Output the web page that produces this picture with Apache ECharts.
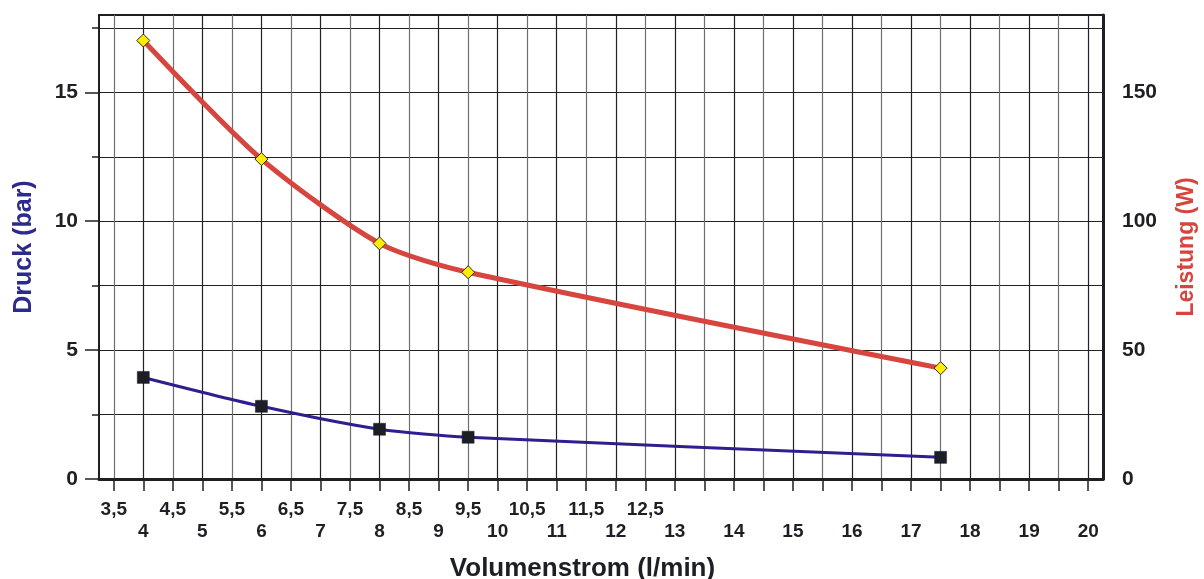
<!DOCTYPE html>
<html>
<head>
<meta charset="utf-8">
<script src="https://cdn.jsdelivr.net/npm/echarts@6/dist/echarts.min.js"></script>
<style>
html,body{margin:0;padding:0;background:#fff;}
#chart{width:1204px;height:579px;}
</style>
</head>
<body>
<div id="chart"></div>
<script>
// x categories (Volumenstrom, l/min), one slot per 0.5
const volumenstrom = ['3,5','4','4,5','5','5,5','6','6,5','7','7,5','8','8,5','9','9,5','10','10,5','11','11,5','12','12,5','13','13,5','14','14,5','15','15,5','16','16,5','17','17,5','18','18,5','19','19,5','20'];
const topRowLabels = ['3,5','4,5','5,5','6,5','7,5','8,5','9,5','10,5','11,5','12,5'];
const bottomRowLabels = ['4','5','6','7','8','9','10','11','12','13','14','15','16','17','18','19','20'];
// measured points
const messpunkte = ['4','6','8','9,5','17,5'];
const druck = [3.94, 2.82, 1.93, 1.62, 0.84];
const leistung = [170.1, 124.1, 91.4, 80.2, 43.0];
// tick labels
const druckTicks = [0, 5, 10, 15];
const druckMinorTicks = [0, 2.5, 5, 7.5, 10, 12.5, 15, 17.5];
const leistungTicks = [0, 50, 100, 150];

const FONT = "'Liberation Sans Narrow', 'Liberation Sans', Arial, sans-serif";
const NAMEFONT = "'Liberation Sans', Arial, sans-serif";

const chart = echarts.init(document.getElementById('chart'), null, {renderer: 'canvas'});
const option = {
  backgroundColor: '#ffffff',
  animation: false,
  grid: {
    left: 99, right: 101, top: 15, bottom: 100,
    containLabel: false,
    outerBoundsMode: 'none',
    show: true, borderColor: '#1d1f24', borderWidth: 2, backgroundColor: 'transparent'
  },
  xAxis: {
    type: 'category',
    data: volumenstrom,
    boundaryGap: true,
    name: 'Volumenstrom (l/min)',
    nameLocation: 'middle',
    nameGap: 77,
    nameTextStyle: {fontFamily: NAMEFONT, fontSize: 26, fontWeight: 'bold', color: '#1d1f24', padding: [0, 37, 0, 0]},
    axisLine: {show: true, lineStyle: {color: '#1d1f24', width: 3}},
    axisTick: {show: true, alignWithLabel: true, interval: 0, length: 12, lineStyle: {color: '#1d1f24', width: 1.5}},
    splitLine: {show: true, alignWithLabel: true, interval: 0, lineStyle: {color: ['#6e6e6e', '#222222'], width: 1.2}},
    axisLabel: {
      interval: 0,
      margin: 20,
      fontFamily: FONT, fontSize: 19, fontWeight: 'bold', color: '#1d1f24',
      lineHeight: 22,
      formatter: function (v) {
        if (topRowLabels.indexOf(v) >= 0) return v;
        if (bottomRowLabels.indexOf(v) >= 0) return '\n' + v;
        return '';
      }
    }
  },
  yAxis: [
    {
      type: 'value', position: 'left', min: 0, max: 18, interval: 2.5,
      name: 'Druck (bar)', nameLocation: 'middle', nameRotate: 90, nameGap: 62,
      nameTextStyle: {fontFamily: NAMEFONT, fontSize: 25, fontWeight: 'bold', color: '#2b2a8e'},
      axisLine: {show: true, lineStyle: {color: '#1d1f24', width: 2}},
      axisTick: {show: true, length: 7, customValues: druckMinorTicks, lineStyle: {color: '#1d1f24', width: 1.5}},
      splitLine: {show: true, lineStyle: {color: '#222222', width: 1.2}},
      axisLabel: {customValues: druckTicks, margin: 21, fontFamily: FONT, fontSize: 21, fontWeight: 'bold', color: '#1d1f24'}
    },
    {
      type: 'value', position: 'right', min: 0, max: 180, interval: 25,
      name: 'Leistung (W)', nameLocation: 'middle', nameRotate: 90, nameGap: 72,
      nameTextStyle: {fontFamily: NAMEFONT, fontSize: 23, fontWeight: 'bold', color: '#d6453e'},
      axisLine: {show: true, lineStyle: {color: '#1d1f24', width: 3}},
      axisTick: {show: false},
      splitLine: {show: false},
      axisLabel: {customValues: leistungTicks, margin: 19, fontFamily: FONT, fontSize: 21, fontWeight: 'bold', color: '#1d1f24'}
    },
    {
      type: 'value', position: 'left', min: 0, max: 18, interval: 5,
      axisLine: {show: false},
      axisTick: {show: true, length: 14, customValues: druckTicks, lineStyle: {color: '#1d1f24', width: 1.5}},
      splitLine: {show: false},
      axisLabel: {show: false}
    }
  ],
  series: [
    {
      name: 'Leistung',
      type: 'line',
      yAxisIndex: 1,
      smooth: 0.25,
      data: messpunkte.map((x, i) => [volumenstrom.indexOf(x), leistung[i]]),
      lineStyle: {color: '#d6453e', width: 5},
      symbol: 'diamond',
      symbolSize: 13,
      itemStyle: {color: '#ffec00', borderColor: '#2a2a2a', borderWidth: 1},
      z: 4
    },
    {
      name: 'Druck',
      type: 'line',
      yAxisIndex: 0,
      smooth: 0.25,
      data: messpunkte.map((x, i) => [volumenstrom.indexOf(x), druck[i]]),
      lineStyle: {color: '#2e1f8f', width: 3},
      symbol: 'rect',
      symbolSize: 12,
      itemStyle: {color: '#1b1e26', borderColor: '#1b1e26', borderWidth: 0.5},
      z: 3
    }
  ]
};
chart.setOption(option);
</script>
</body>
</html>
